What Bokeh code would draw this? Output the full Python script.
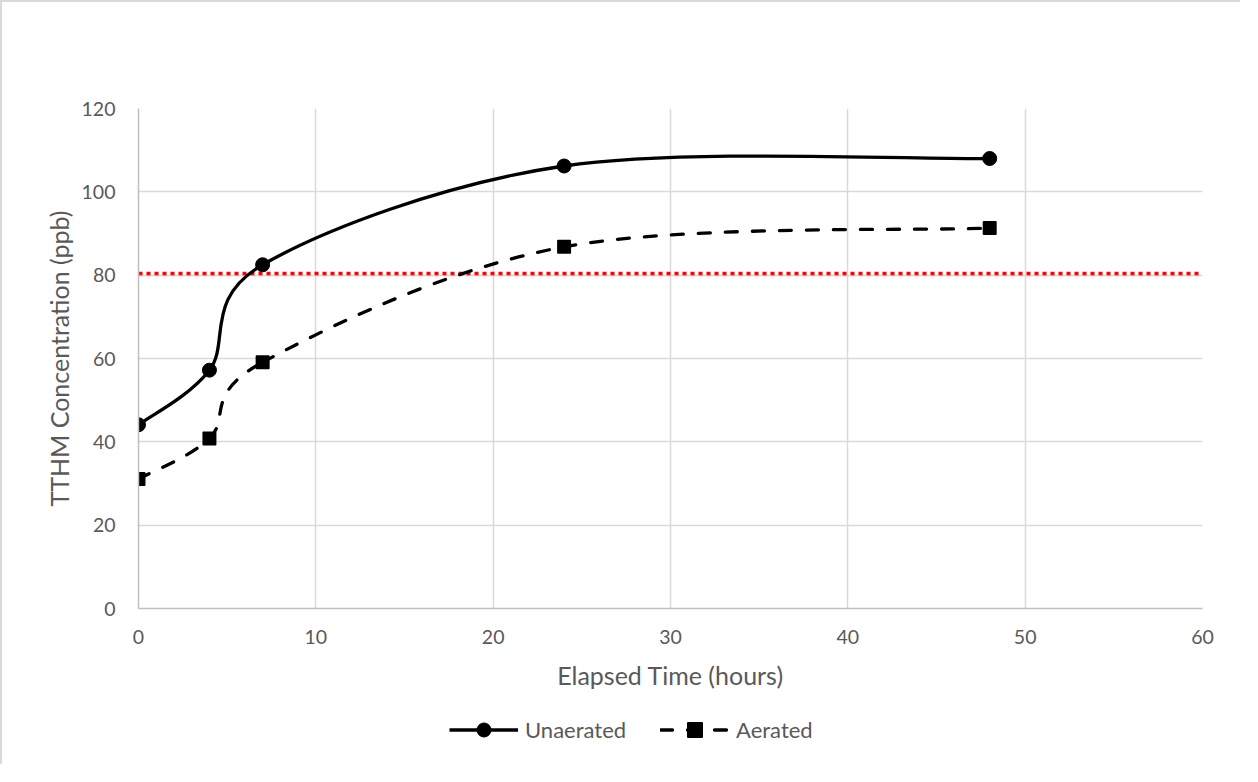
from bokeh.plotting import figure
from bokeh.layouts import column
from bokeh.models import Range1d, Legend, LegendItem, FixedTicker
from bokeh.embed import file_html
from bokeh.resources import INLINE

# ---- data ----
hours = [0, 4, 7, 24, 48]
unaerated = [44.1, 57.2, 82.5, 106.2, 108.0]
aerated = [31.1, 40.8, 59.1, 86.8, 91.3]
mcl_x = [0, 59.8]
mcl_y = [80.4, 80.4]
x_ticks = [0, 10, 20, 30, 40, 50, 60]
y_ticks = [0, 20, 40, 60, 80, 100, 120]
series_names = ["Unaerated", "Aerated"]


def smooth_segments(xs, ys):
    """Excel-style smoothed line: cubic Bezier control points from neighbours."""
    n = len(xs)
    out = dict(x0=[], y0=[], x1=[], y1=[], cx0=[], cy0=[], cx1=[], cy1=[])
    for i in range(n - 1):
        pm = (xs[max(i - 1, 0)], ys[max(i - 1, 0)])
        p0 = (xs[i], ys[i])
        p1 = (xs[i + 1], ys[i + 1])
        pp = (xs[min(i + 2, n - 1)], ys[min(i + 2, n - 1)])
        out["x0"].append(p0[0]); out["y0"].append(p0[1])
        out["x1"].append(p1[0]); out["y1"].append(p1[1])
        out["cx0"].append(p0[0] + (p1[0] - pm[0]) / 6.0)
        out["cy0"].append(p0[1] + (p1[1] - pm[1]) / 6.0)
        out["cx1"].append(p1[0] - (pp[0] - p0[0]) / 6.0)
        out["cy1"].append(p1[1] - (pp[1] - p0[1]) / 6.0)
    return out


FONT = "Lato"
TXT = "#595959"
GRID = "#d9d9d9"
BORDER = "2px solid #d9d9d9"

p = figure(width=1240, height=700, output_backend="svg", toolbar_location=None,
           x_range=Range1d(0, 60), y_range=Range1d(0, 120),
           min_border_left=136, min_border_right=40, min_border_top=106,
           min_border_bottom=94)
p.styles = {"border-top": BORDER, "border-left": BORDER}
p.outline_line_color = None
p.background_fill_color = "white"
p.border_fill_color = "white"

for ax in (p.xaxis[0], p.yaxis[0]):
    ax.major_tick_line_color = None
    ax.minor_tick_line_color = None
    ax.axis_line_color = "#bfbfbf"
    ax.axis_line_width = 1.5
    ax.major_label_text_font = FONT
    ax.major_label_text_font_size = "19.5px"
    ax.major_label_text_color = TXT
    ax.axis_label_text_font = FONT
    ax.axis_label_text_font_size = "25px"
    ax.axis_label_text_color = TXT
    ax.axis_label_text_font_style = "normal"

p.xaxis.ticker = FixedTicker(ticks=x_ticks)
p.yaxis.ticker = FixedTicker(ticks=y_ticks)
p.xaxis.axis_label = "Elapsed Time (hours)"
p.yaxis.axis_label = "TTHM Concentration (ppb)"
p.xaxis.major_label_standoff = 15
p.yaxis.major_label_standoff = 17
p.xaxis.axis_label_standoff = 13
p.yaxis.axis_label_standoff = 5

p.xgrid.grid_line_color = GRID
p.ygrid.grid_line_color = GRID
p.xgrid.grid_line_width = 1.5
p.ygrid.grid_line_width = 1.5

# MCL reference line
p.line(mcl_x, mcl_y, line_color="#ff0000", line_width=3.5, line_dash="4 4")

# Smoothed series
su = smooth_segments(hours, unaerated)
sa = smooth_segments(hours, aerated)
p.bezier(x0=su["x0"], y0=su["y0"], x1=su["x1"], y1=su["y1"],
         cx0=su["cx0"], cy0=su["cy0"], cx1=su["cx1"], cy1=su["cy1"],
         line_color="black", line_width=3.3)
p.bezier(x0=sa["x0"], y0=sa["y0"], x1=sa["x1"], y1=sa["y1"],
         cx0=sa["cx0"], cy0=sa["cy0"], cx1=sa["cx1"], cy1=sa["cy1"],
         line_color="black", line_width=3.3, line_dash="12 15", line_cap="round")

p.scatter(hours, unaerated, marker="circle", size=14, fill_color="black", line_color="black")
p.scatter(hours, aerated, marker="square", size=12, fill_color="black", line_color="black",
          line_width=2, line_join="round")

# ---- legend strip (second figure under the chart) ----
# its ranges exclude the data, so the proxy renderers only show in the legend
q = figure(width=1240, height=64, output_backend="svg", toolbar_location=None,
           x_axis_type=None, y_axis_type=None,
           x_range=Range1d(1000, 1001), y_range=Range1d(1000, 1001),
           min_border=0, min_border_left=0, min_border_right=0,
           min_border_top=0, min_border_bottom=0)
q.styles = {"border-left": BORDER}
q.outline_line_color = None
q.grid.visible = False
q.background_fill_color = "white"
q.border_fill_color = "white"

lu = q.line(hours, unaerated, line_color="black", line_width=3.3)
mu = q.scatter(hours, unaerated, marker="circle", size=14, fill_color="black", line_color="black")
la = q.line(hours, aerated, line_color="black", line_width=3.3, line_dash="12 15", line_cap="round")
ma = q.scatter(hours, aerated, marker="square", size=12, fill_color="black", line_color="black",
               line_width=2, line_join="round")

legend = Legend(items=[LegendItem(label=series_names[0], renderers=[lu, mu]),
                       LegendItem(label=series_names[1], renderers=[la, ma])],
                orientation="horizontal", location=(311, 17),
                glyph_width=69, glyph_height=35, label_standoff=7, spacing=34,
                label_text_font=FONT, label_text_font_size="22px",
                label_text_color=TXT, background_fill_alpha=0,
                border_line_color=None, padding=0, margin=0)
q.add_layout(legend, "center")

layout = column(p, q, spacing=0)
open("out.html", "w").write(file_html(layout, INLINE))
